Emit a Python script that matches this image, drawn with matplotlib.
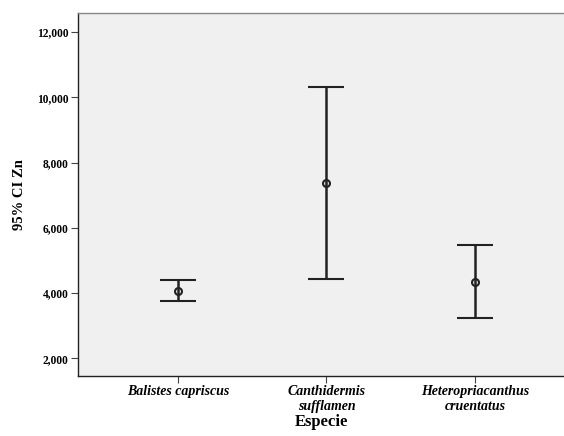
import matplotlib.pyplot as plt

plt.rcParams['font.family'] = ['Liberation Serif', 'DejaVu Serif']

# Datos
especies = ['Balistes capriscus', 'Canthidermis\nsufflamen', 'Heteropriacanthus\ncruentatus']
media = [4075, 7363, 4338]
ic_sup = [4409, 10314, 5472]
ic_inf = [3756, 4430, 3235]
yticks = [2000, 4000, 6000, 8000, 10000, 12000]

fig = plt.figure(figsize=(5.64, 4.36), dpi=100, facecolor='white')
ax = fig.add_axes([78 / 564, 1 - 376 / 436, 1 - 78 / 564, (376 - 13) / 436])
ax.set_facecolor('#f0f0f0')

x = list(range(len(especies)))
err_low = [m - lo for m, lo in zip(media, ic_inf)]
err_high = [hi - m for m, hi in zip(media, ic_sup)]
ax.errorbar(x, media, yerr=[err_low, err_high], fmt='o', color='#222222',
            ecolor='#222222', elinewidth=1.8, capsize=13, capthick=1.8,
            markersize=5, markerfacecolor='none', markeredgewidth=1.5)

ax.set_xlim(-0.673, 2.60)
ax.set_ylim(1458, 12582)
ax.set_yticks(yticks)
ax.set_yticklabels([f'{v:,}' for v in yticks], fontsize=8.3, fontweight='bold')
ax.set_xticks(x)
ax.set_xticklabels(especies, fontsize=10, fontweight='bold', style='italic',
                   linespacing=1.15)

ax.tick_params(axis='both', direction='out', length=5, width=0.8, color='#444444')
ax.tick_params(axis='y', pad=2)
ax.tick_params(axis='x', pad=1.5)

for s in ['left', 'bottom']:
    ax.spines[s].set_color('#222222')
    ax.spines[s].set_linewidth(1.0)
ax.spines['top'].set_color('#888888')
ax.spines['top'].set_linewidth(1.0)
ax.spines['right'].set_visible(False)

ax.set_ylabel('95% CI Zn', fontsize=10.5, fontweight='bold', labelpad=8)
ax.set_xlabel('Especie', fontsize=12, fontweight='bold', labelpad=1)

fig.savefig('out.png', dpi=100)
